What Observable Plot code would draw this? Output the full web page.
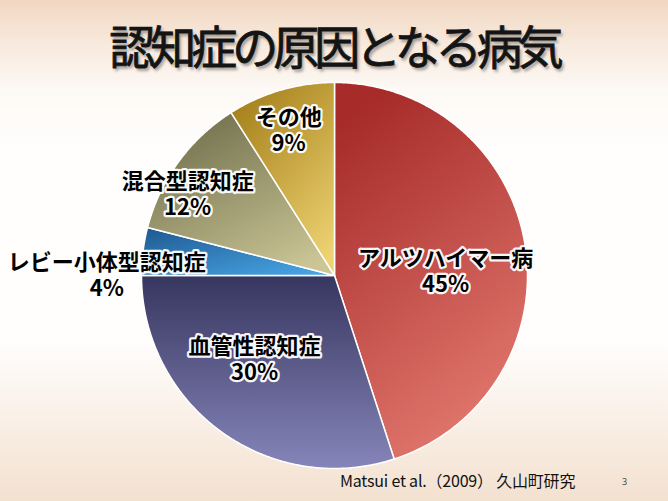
<!DOCTYPE html>
<html><head><meta charset="utf-8">
<script src="https://cdn.jsdelivr.net/npm/d3@7"></script>
<script src="https://cdn.jsdelivr.net/npm/@observablehq/plot@0.6"></script>
<style>
html,body{margin:0;padding:0;background:#fff}
#wrap{position:relative;width:668px;height:501px;overflow:hidden;
  background:linear-gradient(to bottom,#f1d7c1 0%,#f7e8db 8%,#fdf9f5 18%,#fffefd 30%,#fffefd 68%,#faf1e9 82%,#f3e1d0 100%);
  font-family:"Noto Sans CJK JP","Noto Sans",sans-serif}
#title{position:absolute;left:0;top:16px;width:668px;text-align:center;font-size:46px;line-height:56px;
  letter-spacing:-5px;color:#141414;text-shadow:2px 3px 3px rgba(0,0,0,0.35);font-weight:400;
  -webkit-text-stroke:0.8px #141414}
#chart{position:absolute;left:0;top:78px}
#caption{position:absolute;left:340px;top:469px;font-size:16px;line-height:22px;color:#111;letter-spacing:-0.2px}
#page{position:absolute;left:622px;top:476px;font-size:9px;line-height:12px;color:#444;font-family:"Noto Sans",sans-serif}
</style></head>
<body>
<div id="wrap">
  <div id="title"></div>
  <div id="chart"></div>
  <div id="caption"></div>
  <div id="page"></div>
</div>
<script>
// ---- data ----
const titleText = "認知症の原因となる病気";
const categories = ["アルツハイマー病", "血管性認知症", "レビー小体型認知症", "混合型認知症", "その他"];
const percents = [45, 30, 4, 12, 9];
const captionText = "Matsui et al.（2009） 久山町研究";
const pageNumber = "3";

// ---- styles / layout ----
const gradients = [
  {x1:0.3, y1:0, x2:0.7, y2:1, stops:["#a62b29", "#e47b71"]},
  {x1:0, y1:0, x2:0, y2:1, stops:["#37365f", "#8585ba"]},
  {x1:0, y1:0, x2:1, y2:1, stops:["#1f5890", "#4aaaea"]},
  {x1:0.2, y1:0, x2:0.8, y2:1, stops:["#6f6e4b", "#ccc697"]},
  {x1:0.2, y1:0, x2:0.8, y2:1, stops:["#a5801b", "#eed372"]}
];
const labelLayout = [
  {r:0.576, dTheta:6.4},
  {r:0.596, dTheta:8},
  {r:1.18, dTheta:-7},
  {r:0.87, dTheta:-7},
  {r:0.79, dTheta:-1.3}
];

document.getElementById("title").textContent = titleText;
document.getElementById("caption").textContent = captionText;
document.getElementById("page").textContent = pageNumber;

const W = 668, H = 392, cx = 334, cy = 197, R = 193;
const data = categories.map((c, i) => ({category: c, value: percents[i], index: i}));
const arcs = d3.pie().sort(null).value(d => d.value)(data);

const slicePoints = arcs.map(a => {
  const pts = [{x: 0, y: 0}];
  const n = Math.max(4, Math.ceil((a.endAngle - a.startAngle) / (Math.PI / 360)));
  for (let k = 0; k <= n; k++) {
    const t = a.startAngle + (a.endAngle - a.startAngle) * k / n;
    pts.push({x: Math.sin(t), y: Math.cos(t)});
  }
  return pts;
});

const labels = arcs.map((a, i) => {
  const mid = (a.startAngle + a.endAngle) / 2 + labelLayout[i].dTheta * Math.PI / 180;
  const r = labelLayout[i].r;
  return {x: r * Math.sin(mid), y: r * Math.cos(mid), text: `${a.data.category}\n${a.data.value}%`};
});

const plot = Plot.plot({
  width: W, height: H, margin: 0,
  x: {domain: [-cx / R, (W - cx) / R], axis: null},
  y: {domain: [-(H - cy) / R, cy / R], axis: null},
  style: {background: "transparent", overflow: "visible"},
  marks: [
    ...slicePoints.map((pts, i) => Plot.line(pts, {x: "x", y: "y", curve: "linear-closed",
      fill: `url(#grad${i})`, stroke: "white", strokeWidth: 1.5, strokeLinejoin: "round"})),
    Plot.text(labels, {x: "x", y: "y", text: "text", fontSize: 22, fontWeight: 700, lineHeight: 1.18,
      lineAnchor: "middle", textAnchor: "middle", fontFamily: "Noto Sans CJK JP",
      fill: "#000", stroke: "white", strokeWidth: 4.5, strokeOpacity: 0.95, ariaLabel: "slice-labels"})
  ]
});

const defs = gradients.map((g, i) =>
  `<linearGradient id="grad${i}" x1="${g.x1}" y1="${g.y1}" x2="${g.x2}" y2="${g.y2}">` +
  `<stop offset="0" stop-color="${g.stops[0]}"/><stop offset="1" stop-color="${g.stops[1]}"/></linearGradient>`).join("");
plot.insertAdjacentHTML("afterbegin", `<defs>${defs}</defs>`);
plot.querySelectorAll('g[aria-label="slice-labels"]').forEach(g => {
  g.style.filter = "drop-shadow(0 0 2px #fff) drop-shadow(0 0 1.5px #fff)";
});
document.getElementById("chart").appendChild(plot);
</script>
</body></html>
